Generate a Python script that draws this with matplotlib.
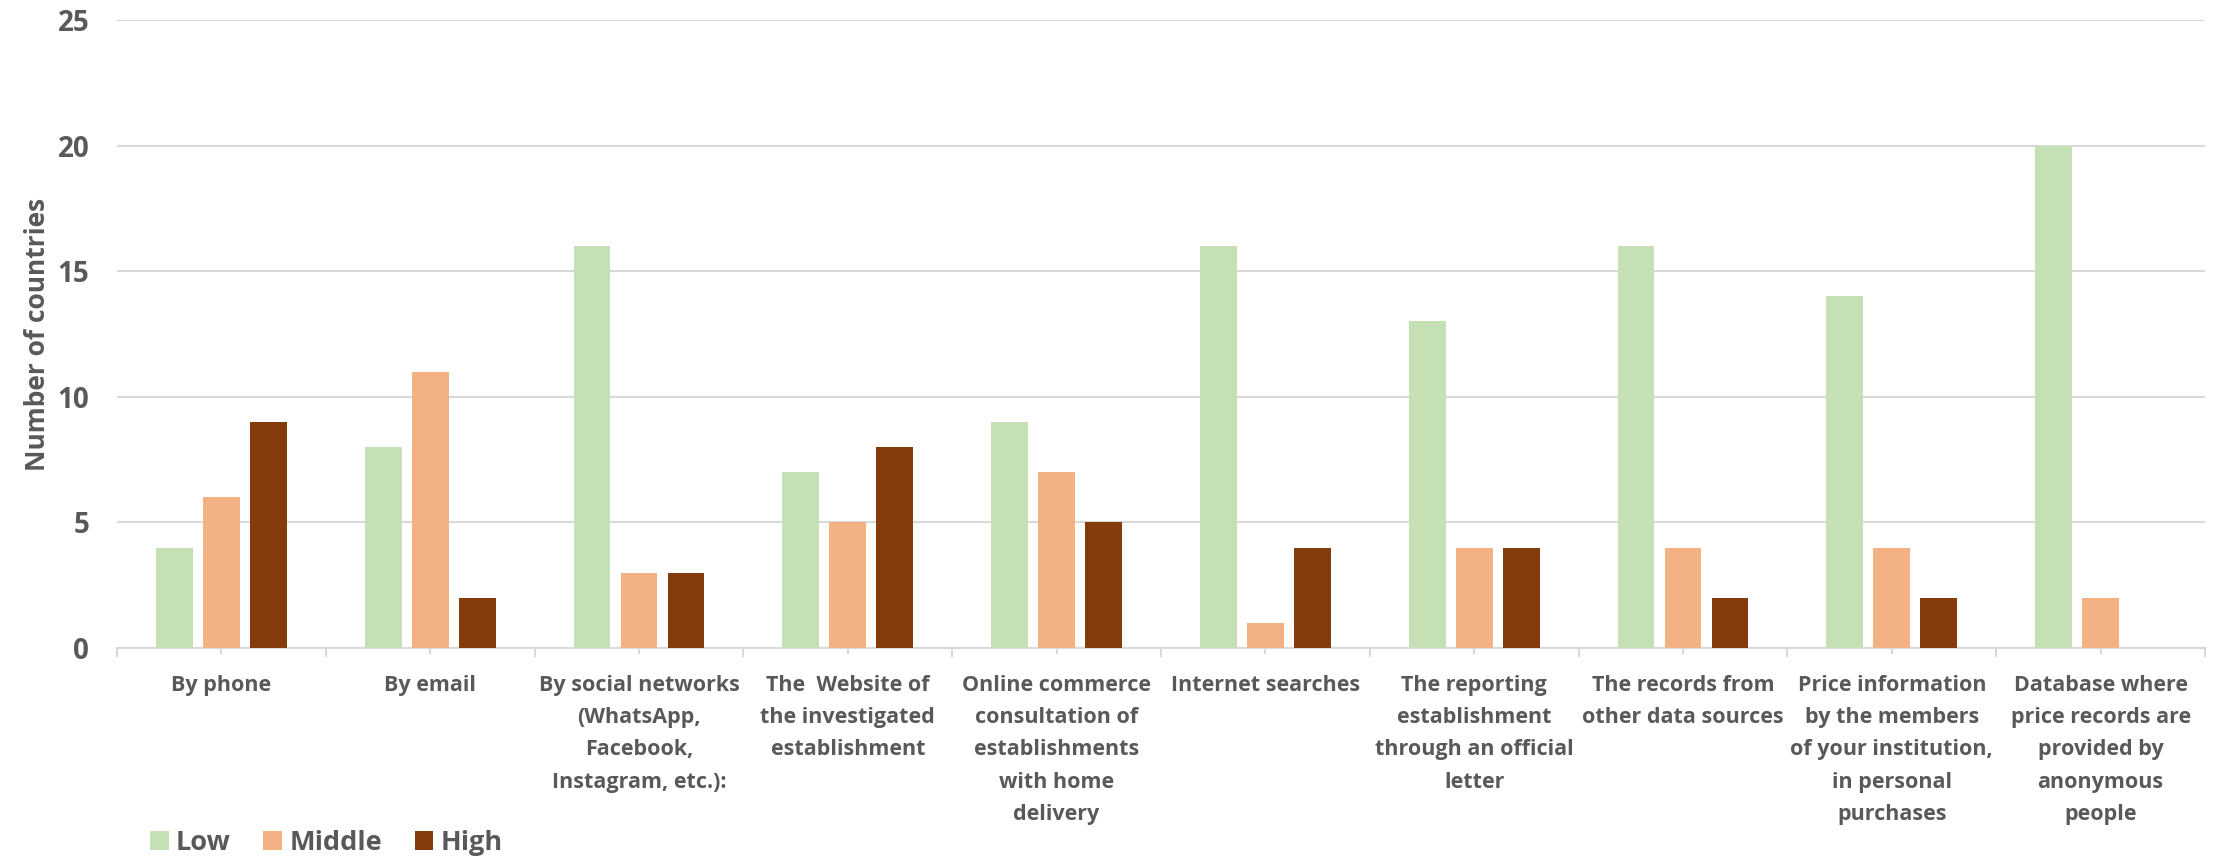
import numpy as np
import matplotlib.pyplot as plt
from matplotlib.ticker import FixedLocator

plt.rcParams['font.family'] = ['Open Sans', 'DejaVu Sans']
plt.rcParams['font.weight'] = 'bold'

categories = [
    "By phone",
    "By email",
    "By social networks\n(WhatsApp,\nFacebook,\nInstagram, etc.):",
    "The  Website of\nthe investigated\nestablishment",
    "Online commerce\nconsultation of\nestablishments\nwith home\ndelivery",
    "Internet searches",
    "The reporting\nestablishment\nthrough an official\nletter",
    "The records from\nother data sources",
    "Price information\nby the members\nof your institution,\nin personal\npurchases",
    "Database where\nprice records are\nprovided by\nanonymous\npeople",
]
low = [4, 8, 16, 7, 9, 16, 13, 16, 14, 20]
middle = [6, 11, 3, 5, 7, 1, 4, 4, 4, 2]
high = [9, 2, 3, 8, 5, 4, 4, 2, 2, 0]

series = [("Low", low, "#C5E0B4"), ("Middle", middle, "#F4B183"), ("High", high, "#843C0C")]
text_col = "#595959"
grid_col = "#D9D9D9"

fig = plt.figure(figsize=(22.24, 8.6), dpi=100)
ax = fig.add_axes([117 / 2224, 1 - 648 / 860, (2205 - 117) / 2224, (648 - 20) / 860])

x = np.arange(len(categories))
w = 0.177
step = 0.225
for i, (name, vals, col) in enumerate(series):
    ax.bar(x + (i - 1) * step, vals, width=w, color=col, label=name, zorder=3)

ax.set_xlim(-0.5, len(categories) - 0.5)
ax.set_ylim(0, 25)
ax.set_yticks([0, 5, 10, 15, 20, 25])
ax.set_yticklabels(["0", "5", "10", "15", "20", "25"], fontweight='bold')
ax.yaxis.grid(True, color=grid_col, linewidth=1.5, zorder=0)
ax.tick_params(axis='y', length=0, pad=20, labelsize=20, labelcolor=text_col)

ax.set_xticks(x)
ax.set_xticklabels(categories, fontsize=15.5, color=text_col, fontweight='bold', linespacing=1.7)
ax.xaxis.set_minor_locator(FixedLocator(np.arange(-0.5, len(categories), 1.0)))
ax.tick_params(axis='x', which='major', length=4.5, width=1.5, color=grid_col, pad=15)
ax.tick_params(axis='x', which='minor', length=6.5, width=1.5, color=grid_col)

for s in ['top', 'right', 'left']:
    ax.spines[s].set_visible(False)
ax.spines['bottom'].set_color(grid_col)
ax.spines['bottom'].set_linewidth(1.5)

ax.set_ylabel("Number of countries", fontsize=19, color=text_col, fontweight='bold', labelpad=5)

fig.legend(loc='center left', bbox_to_anchor=(150 / 2224, 1 - 843 / 860), ncol=3,
           frameon=False, prop={'size': 19.5, 'weight': 'bold'}, labelcolor=text_col,
           handlelength=0.7, handleheight=0.7, handletextpad=0.26, columnspacing=1.2,
           borderaxespad=0, borderpad=0)

fig.savefig("out.png", dpi=100)
